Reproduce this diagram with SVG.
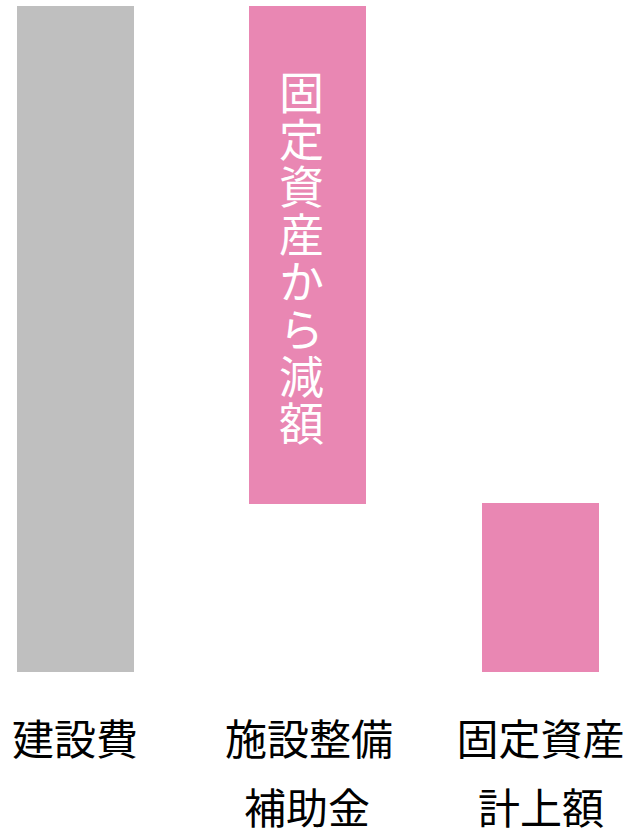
<svg xmlns="http://www.w3.org/2000/svg" width="628" height="829" viewBox="0 0 628 829">
<style>
.lbl{font-family:"Noto Sans CJK JP","Noto Sans CJK SC",sans-serif;font-size:42px;fill:#000;text-anchor:middle}
.vt{font-family:"Noto Sans CJK JP","Noto Sans CJK SC",sans-serif;font-size:45px;fill:#fff;writing-mode:vertical-rl;letter-spacing:2.4px}
.pink{fill:#E987B3}
</style>
<rect width="628" height="829" fill="#fff"/>
<g id="bar-construction">
<rect x="17" y="6" width="117" height="666" fill="#BFBFBF"/>
</g>
<g id="bar-subsidy">
<rect class="pink" x="249" y="6" width="117" height="498"/>
<text class="vt" x="301.5" y="70">固定資産から減額</text>
</g>
<g id="bar-asset">
<rect class="pink" x="482" y="503" width="117" height="169"/>
</g>
<g id="label-construction">
<text class="lbl" x="75" y="755">建設費</text>
</g>
<g id="label-subsidy">
<text class="lbl" x="309" y="755">施設整備</text>
<text class="lbl" x="307" y="824">補助金</text>
</g>
<g id="label-asset">
<text class="lbl" x="540.5" y="755">固定資産</text>
<text class="lbl" x="541" y="824">計上額</text>
</g>
<g id="connectors"/>
</svg>
